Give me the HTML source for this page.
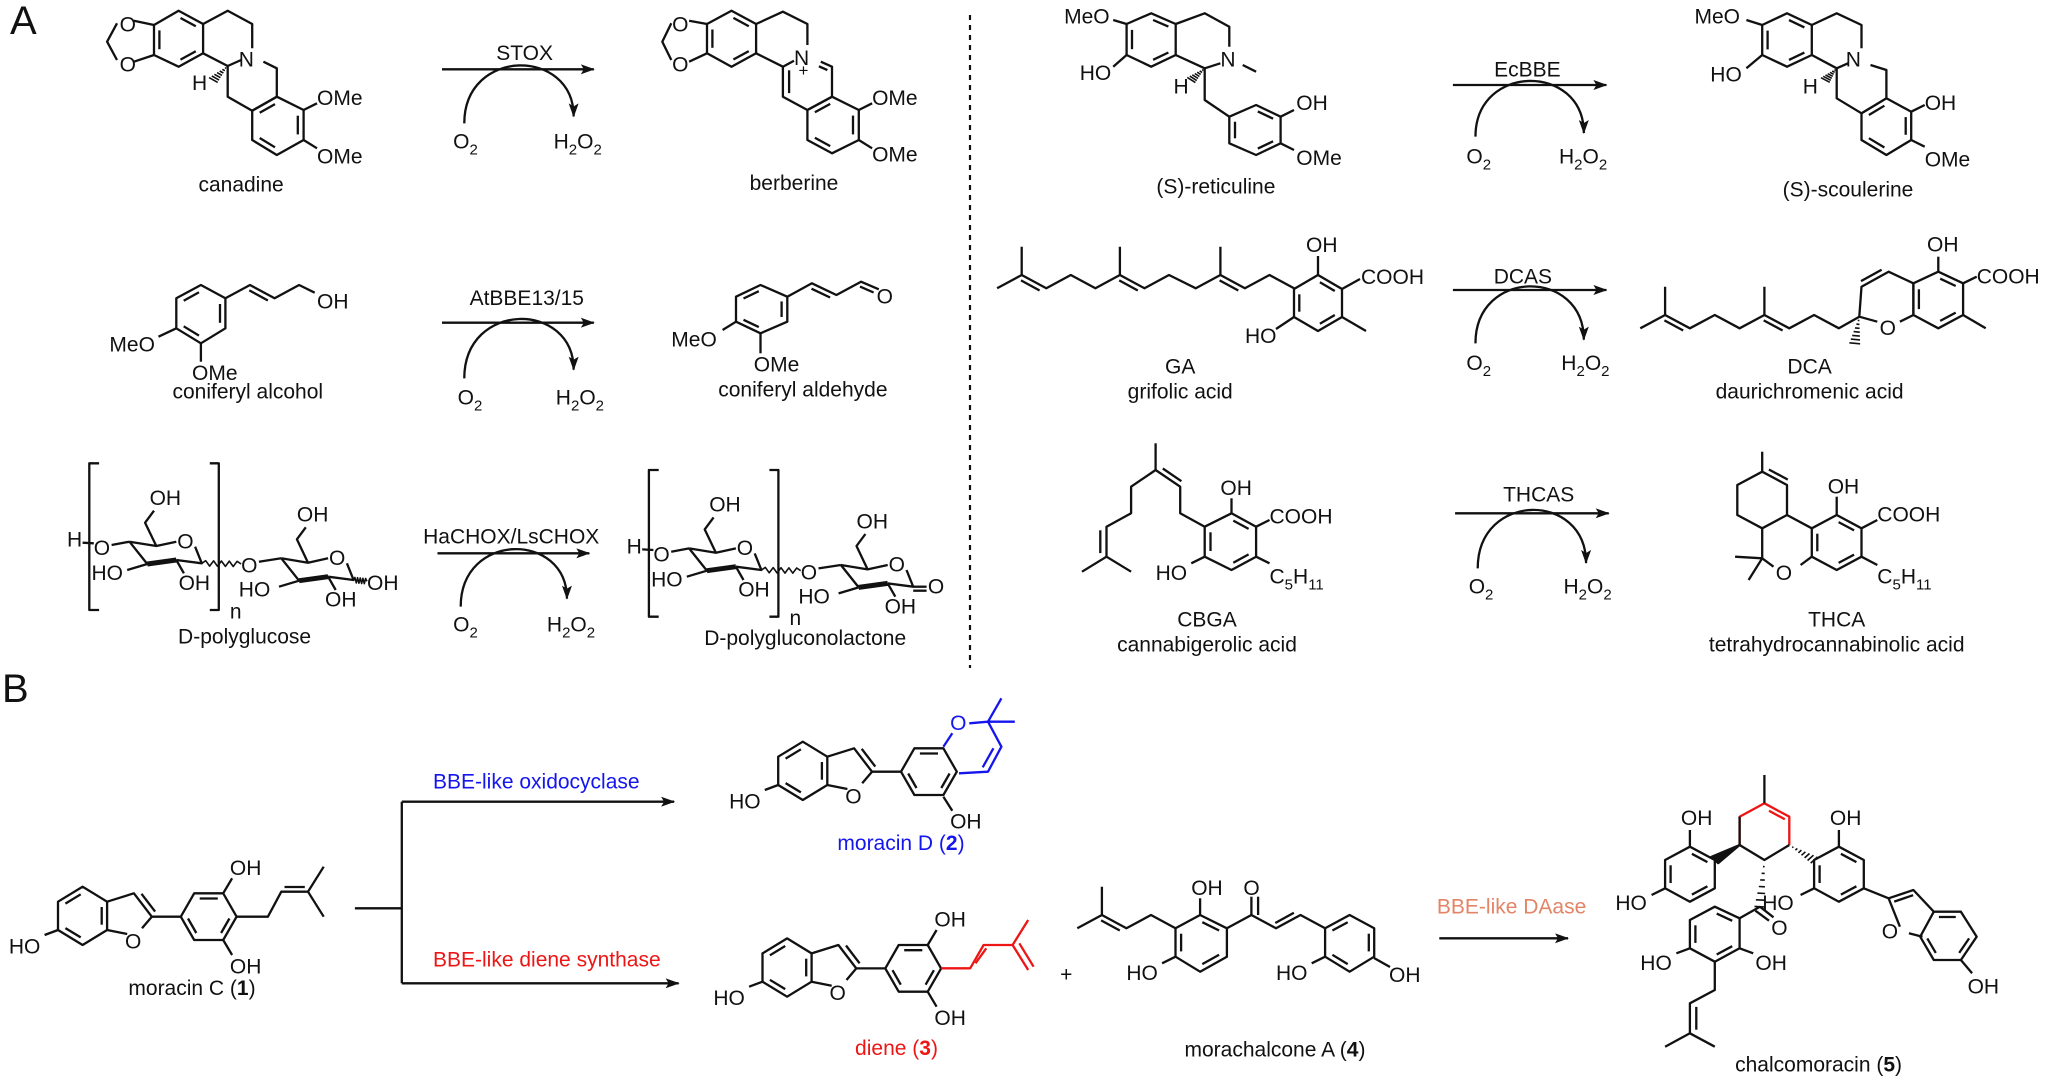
<!DOCTYPE html>
<html><head><meta charset="utf-8"><style>
body{margin:0;background:#fff}
svg{display:block}
text{font-family:"Liberation Sans",Arial,sans-serif;font-size:21px;fill:#111}
</style></head><body>
<svg id="s" width="2048" height="1084" viewBox="0 0 2048 1084" xmlns="http://www.w3.org/2000/svg">
<defs><marker id="ah" markerWidth="14" markerHeight="10" refX="13" refY="5" orient="auto" markerUnits="userSpaceOnUse"><path d="M0,0 L14,5 L0,10 L3,5 z" fill="#111"/></marker></defs>
<g id="g" stroke="#111" stroke-width="2.3" fill="none" stroke-linejoin="round"></g>
<g id="t"></g>
</svg>
<script>
var g=document.getElementById('g'),TT=document.getElementById('t'),NS='http://www.w3.org/2000/svg';
function el(n,a,p){var e=document.createElementNS(NS,n);for(var k in a)e.setAttribute(k,a[k]);(p||g).appendChild(e);return e;}
function M(f,x,y){return [f[0]+x*f[2]/1568,f[1]+y/3];}
function P(f,pts,c,close,extra){var s=[];for(var i=0;i<pts.length;i+=2){var m=M(f,pts[i],pts[i+1]);s.push(m[0].toFixed(1)+','+m[1].toFixed(1));}
 var a={points:s.join(' ')};if(c)a.stroke=c;if(extra)for(var k in extra)a[k]=extra[k];return el(close?'polygon':'polyline',a);}
function arom(f,p,c,edges){var cx=0,cy=0,n=p.length/2;for(var i=0;i<n;i++){cx+=p[2*i];cy+=p[2*i+1];}cx/=n;cy/=n;
 edges=edges||[0,2,4];edges.forEach(function(i){var ax=p[2*i],ay=p[2*i+1],j=(i+1)%n,bx=p[2*j],by=p[2*j+1];
 ax+=(cx-ax)*0.22;ay+=(cy-ay)*0.22;bx+=(cx-bx)*0.22;by+=(cy-by)*0.22;
 var dx=bx-ax,dy=by-ay;P(f,[ax+dx*0.1,ay+dy*0.1,bx-dx*0.1,by-dy*0.1],c);});}
function BZ(f,p,c,edges){P(f,p,c,true);arom(f,p,c,edges);}
function T(f,x,y,s,anc,col,size,bold){var m=M(f,x,y);var e=el('text',{x:m[0].toFixed(1),y:m[1].toFixed(1)},TT);e.innerHTML=s;
 if(anc)e.setAttribute('text-anchor',anc);var st='';if(col)st+='fill:'+col+';';if(size)st+='font-size:'+size+'px;';if(bold)st+='font-weight:bold;';if(st)e.setAttribute('style',st);return e;}
function wavy(f,x1,y1,x2,y2){var p=[],n=10;for(var i=0;i<=n;i++){var x=x1+(x2-x1)*i/n,y=y1+(y2-y1)*i/n+(i%2?-8:8)*(i>0&&i<n?1:0);p.push(x,y);}P(f,p,null,false,{'stroke-width':1.6});}
function hash(f,x1,y1,x2,y2){var n=7;for(var i=1;i<=n;i++){var t=i/n,x=x1+(x2-x1)*t,y=y1+(y2-y1)*t,dx=-(y2-y1),dy=(x2-x1),L=Math.sqrt(dx*dx+dy*dy),w=t*12;P(f,[x-dx/L*w,y-dy/L*w,x+dx/L*w,y+dy/L*w],null,false,{'stroke-width':1.6});}}
function wedge(f,x1,y1,x2,y2){var dx=-(y2-y1),dy=(x2-x1),L=Math.sqrt(dx*dx+dy*dy),w=12;P(f,[x1,y1,x2+dx/L*w,y2+dy/L*w,x2-dx/L*w,y2-dy/L*w],null,true,{fill:'#111'});}
function dbl(f,x1,y1,x2,y2,c,side){var dx=-(y2-y1),dy=(x2-x1),L=Math.sqrt(dx*dx+dy*dy),o=(side||1)*14;var ex=x2-x1,ey=y2-y1;
 P(f,[x1+dx/L*o+ex*0.12,y1+dy/L*o*1+ey*0.12,x2+dx/L*o-ex*0.12,y2+dy/L*o-ey*0.12],c);}
var H2O2='H<tspan dy="6" font-size="15">2</tspan><tspan dy="-6">O</tspan><tspan dy="6" font-size="15">2</tspan>';
var O2='O<tspan dy="6" font-size="15">2</tspan>';
function rxn(f,x1,x2,y,lab,lx,ly,cx1,cy1,cx2,cy2,ox,oy,hx,hy){P(f,[x1,y,x2,y],null,false,{'marker-end':'url(#ah)'});
 var a=M(f,cx1,cy1),b=M(f,cx2,cy2),top=M(f,0,y)[1];
 el('path',{d:'M'+a[0]+','+a[1]+' C'+a[0]+','+(top-22)+' '+b[0]+','+(top-22)+' '+b[0]+','+(b[1]-2),'marker-end':'url(#ah)'});
 T(f,lx,ly,lab,'middle');T(f,ox,oy,O2);T(f,hx,hy,H2O2);}
var Z1=[0,0,700],Z2=[0,380,700],Z3=[640,0,700],Z4=[640,380,700],Z5=[1340,0,708],Z6=[1340,380,708],Z7=[0,680,700],Z8=[680,680,700],Z9=[1340,680,708];

T([0,0,1568],10,102,'A',null,null,40);
T([0,0,1568],2,2106,'B',null,null,40);
el('line',{x1:970,y1:15,x2:970,y2:668,'stroke-dasharray':'5,5','stroke-width':2.2});

// ===== canadine (Z1)
P(Z1,[300,62,345,75]);P(Z1,[300,185,345,165]);P(Z1,[262,70,240,125,262,180]);
T(Z1,268,95,'O');T(Z1,268,215,'O');
BZ(Z1,[345,75,400,32,455,72,455,160,400,200,345,165],null,[1,3,5]);
P(Z1,[455,72,510,32,565,72,565,145]);P(Z1,[455,160,510,198,540,180]);
T(Z1,535,200,'N');
P(Z1,[590,185,620,205,620,290,565,332,510,290,510,198]);
BZ(Z1,[565,332,620,290,680,330,680,420,620,465,565,420],null,[0,2,4]);
P(Z1,[680,330,710,310]);P(Z1,[680,420,710,445]);
T(Z1,710,315,'OMe');T(Z1,710,490,'OMe');T(Z1,430,270,'H');hash(Z1,510,198,478,240);
T(Z1,540,575,'canadine','middle');
rxn(Z1,990,1330,208,'STOX',1175,180,1040,370,1285,355,1015,445,1240,445);
// coniferyl alcohol
BZ(Z1,[395,895,450,855,505,895,505,985,450,1030,395,985],null,[0,2,4]);
P(Z1,[505,895,560,855,615,895,670,855,705,878]);dbl(Z1,560,855,615,895,null,1);T(Z1,710,925,'OH');
P(Z1,[395,985,355,1010]);T(Z1,245,1055,'MeO');P(Z1,[450,1030,450,1085]);T(Z1,430,1140,'OMe');
T(Z1,555,1195,'coniferyl alcohol','middle');
rxn(Z1,990,1330,968,'AtBBE13/15',1180,915,1040,1135,1285,1115,1025,1213,1245,1213);

// ===== polyglucose
function sugar(f,lac){
 P(f,[222,250,200,250,200,690,222,690]);P(f,[470,250,490,250,490,690,470,690]);T(f,515,715,'n');
 T(f,150,500,'H');P(f,[185,488,210,490]);T(f,210,525,'O');P(f,[250,495,290,485]);
 function ring(dx,dy){P(f,[290+dx,485+dy,350+dx,498+dy,395+dx,485+dy]);P(f,[437+dx,500+dy,452+dx,550+dy,395+dx,540+dy]);
  P(f,[395+dx,540+dy,330+dx,552+dy],null,false,{'stroke-width':5});P(f,[330+dx,552+dy,290+dx,485+dy]);
  T(f,397+dx,505+dy,'O');P(f,[350+dx,498+dy,325+dx,428+dy,345+dx,392+dy]);
  P(f,[330+dx,552+dy,285+dx,570+dy]);P(f,[395+dx,540+dy,412+dx,580+dy]);}
 ring(0,0);T(f,335,375,'OH');T(f,205,600,'HO');T(f,400,630,'OH');
 wavy(f,452,550,540,552);T(f,540,578,'O');P(f,[580,545,630,535]);
 ring(340,50);T(f,665,425,'OH');T(f,535,650,'HO');T(f,728,680,'OH');
 if(lac){P(f,[792,600,822,600]);P(f,[792,612,822,612]);T(f,825,620,'O');}
 else{wavy(f,792,600,822,604);T(f,822,630,'OH');}
}
sugar(Z2,false);T(Z2,548,790,'D-polyglucose','middle');
var ZL=[559.6,386.7,700];sugar(ZL,true);T(Z4,370,795,'D-polygluconolactone','middle');
rxn(Z2,980,1320,520,'HaCHOX/LsCHOX',1145,490,1032,680,1270,662,1015,755,1225,755);

// ===== berberine (Z3)
P(Z3,[110,62,150,72]);P(Z3,[110,185,150,160]);P(Z3,[70,70,50,125,70,180]);
T(Z3,72,95,'O');T(Z3,72,215,'O');
BZ(Z3,[150,72,205,32,260,72,260,160,205,200,150,160],null,[1,3,5]);
P(Z3,[260,72,320,35,375,72,375,135]);P(Z3,[260,160,320,200,345,182]);
T(Z3,345,195,'N');T(Z3,355,228,'+',null,null,17);
P(Z3,[405,185,430,200,430,290,375,330,320,290,320,200]);dbl(Z3,320,200,320,290,null,-1);dbl(Z3,405,185,430,200,null,1);
BZ(Z3,[375,330,430,290,490,330,490,420,430,460,375,420],null,[0,2,4]);
P(Z3,[490,330,520,310]);P(Z3,[490,420,520,445]);T(Z3,520,315,'OMe');T(Z3,520,485,'OMe');
T(Z3,345,570,'berberine','middle');
// reticuline
T(Z3,950,70,'MeO');P(Z3,[1060,60,1090,72]);
BZ(Z3,[1090,72,1145,40,1200,72,1200,165,1145,200,1090,165],null,[1,3,5]);
T(Z3,985,240,'HO');P(Z3,[1060,200,1090,165]);
P(Z3,[1200,72,1265,40,1320,80,1320,140]);P(Z3,[1200,165,1265,205,1300,190]);T(Z3,1300,200,'N');P(Z3,[1350,195,1380,215]);
T(Z3,1195,280,'H');hash(Z3,1265,205,1235,240);
P(Z3,[1265,205,1265,300,1320,350]);
BZ(Z3,[1320,350,1380,315,1435,350,1435,430,1380,465,1320,430],null,[1,3,5]);
P(Z3,[1435,350,1465,330]);P(Z3,[1435,430,1465,450]);T(Z3,1470,330,'OH');T(Z3,1470,495,'OMe');
T(Z3,1290,580,'(S)-reticuline','middle');
// coniferyl aldehyde
BZ(Z3,[215,890,270,855,330,890,330,965,270,1000,215,965],null,[0,2,4]);
P(Z3,[330,890,385,850,440,885,495,845,535,868]);dbl(Z3,385,850,440,885,null,1);dbl(Z3,495,845,535,868,null,1);T(Z3,530,910,'O');
P(Z3,[215,965,185,990]);T(Z3,70,1040,'MeO');P(Z3,[270,1000,270,1060]);T(Z3,255,1115,'OMe');
T(Z3,365,1190,'coniferyl aldehyde','middle');
// GA
P(Z3,[800,865,855,825,855,740]);P(Z3,[855,825,910,865,965,825,1020,865,1075,825,1075,740]);
P(Z3,[1075,825,1130,865,1185,825,1245,865,1300,825,1300,740]);P(Z3,[1300,825,1355,865,1410,825,1465,865]);
dbl(Z3,855,825,910,865,null,1);dbl(Z3,1075,825,1130,865,null,1);dbl(Z3,1300,825,1355,865,null,1);
var RF=[0,0,1568];
BZ(RF,[1294,867,1318,825,1342,867,1342,951,1318,993,1294,951],null,[1,3,5]);
el('line',{x1:1318,y1:275,x2:1318,y2:256});
el('line',{x1:1342,y1:289,x2:1360,y2:279});el('line',{x1:1342,y1:317,x2:1366,y2:331});el('line',{x1:1294,y1:317,x2:1276,y2:329});
(function(){var e;e=el('text',{x:1306,y:252},TT);e.textContent='OH';e=el('text',{x:1361,y:284},TT);e.textContent='COOH';e=el('text',{x:1245,y:343},TT);e.textContent='HO';})();
T(Z3,1210,1120,'GA','middle');T(Z3,1210,1195,'grifolic acid','middle');
// CBGA (Z4)
P(Z4,[1155,190,1155,270]);P(Z4,[1155,270,1100,320,1100,400,1045,440,1045,530,990,575]);P(Z4,[1045,530,1100,575]);
dbl(Z4,1045,440,1045,530,null,1);dbl(Z4,1155,270,1210,320,null,-1);
P(Z4,[1155,270,1210,320,1210,400,1265,440]);
BZ(Z4,[1265,440,1325,400,1380,440,1380,530,1325,570,1265,530],null,[1,3,5]);
P(Z4,[1325,400,1325,355]);T(Z4,1300,345,'OH');P(Z4,[1380,440,1410,420]);T(Z4,1410,430,'COOH');
P(Z4,[1380,530,1410,550]);T(Z4,1410,610,'C<tspan dy="6" font-size="15">5</tspan><tspan dy="-6">H</tspan><tspan dy="6" font-size="15">11</tspan>');
P(Z4,[1265,530,1235,550]);T(Z4,1155,600,'HO');
T(Z4,1270,740,'CBGA','middle');T(Z4,1270,815,'cannabigerolic acid','middle');

// ===== Z5 scoulerine
rxn(Z5,250,590,255,'EcBBE',415,230,300,410,540,405,280,490,485,490);
T(Z5,785,70,'MeO');P(Z5,[900,60,935,75]);T(Z5,820,245,'HO');P(Z5,[900,205,935,165]);
BZ(Z5,[935,75,990,40,1045,75,1045,165,990,200,935,165],null,[1,3,5]);
P(Z5,[1045,75,1100,40,1155,75,1155,145]);P(Z5,[1045,165,1100,205,1125,190]);T(Z5,1120,200,'N');
T(Z5,1025,280,'H');hash(Z5,1100,205,1075,240);
P(Z5,[1175,195,1210,210,1210,295,1155,340,1100,295,1100,205]);
BZ(Z5,[1155,340,1210,295,1265,335,1265,420,1210,465,1155,420],null,[0,2,4]);
P(Z5,[1265,335,1295,315]);P(Z5,[1265,420,1295,440]);T(Z5,1295,330,'OH');T(Z5,1295,500,'OMe');
T(Z5,1125,590,'(S)-scoulerine','middle');
// DCA
rxn(Z5,250,590,870,'DCAS',405,850,300,1030,540,1025,280,1110,490,1110);
P(Z5,[665,985,720,945,720,860]);P(Z5,[720,945,775,985,830,945,885,985,940,945,940,860]);
P(Z5,[940,945,995,985,1050,945,1105,985,1150,950]);hash(Z5,1150,950,1140,1030);
dbl(Z5,720,945,775,985,null,1);dbl(Z5,940,945,995,985,null,1);
P(Z5,[1190,965,1150,950,1155,860,1215,815,1270,850,1270,945,1240,965]);dbl(Z5,1155,860,1215,815,null,-1);T(Z5,1195,1005,'O');
BZ(Z5,[1270,850,1325,815,1380,850,1380,945,1325,985,1270,945],null,[1,3,5]);
P(Z5,[1325,815,1325,770]);T(Z5,1300,755,'OH');P(Z5,[1380,850,1410,830]);T(Z5,1410,850,'COOH');P(Z5,[1380,945,1430,985]);
T(Z5,1040,1120,'DCA','middle');T(Z5,1040,1195,'daurichromenic acid','middle');
// THCA (Z6)
rxn(Z6,255,595,400,'THCAS',440,365,305,565,545,555,285,640,495,640);
P(Z6,[935,215,935,275]);P(Z6,[935,275,990,315,990,405,935,445,880,405,880,315],null,true);dbl(Z6,935,275,990,315,null,-1);
P(Z6,[990,405,1045,445]);P(Z6,[1045,530,1020,555]);T(Z6,965,600,'O');P(Z6,[960,560,935,535,935,445]);
P(Z6,[935,535,875,530]);P(Z6,[935,535,905,600]);
BZ(Z6,[1045,445,1100,405,1155,445,1155,530,1100,570,1045,530],null,[1,3,5]);
P(Z6,[1100,405,1100,350]);T(Z6,1080,340,'OH');P(Z6,[1155,445,1190,420]);T(Z6,1190,425,'COOH');
P(Z6,[1155,530,1190,555]);T(Z6,1190,610,'C<tspan dy="6" font-size="15">5</tspan><tspan dy="-6">H</tspan><tspan dy="6" font-size="15">11</tspan>');
T(Z6,1100,740,'THCA','middle');T(Z6,1100,815,'tetrahydrocannabinolic acid','middle');

// ===== B
function core(f){BZ(f,[130,665,185,620,240,665,240,750,185,795,130,750],null,[0,2,4]);
 P(f,[240,665,300,640,340,710,318,745]);dbl(f,300,640,340,710,null,-1);P(f,[285,762,240,750]);T(f,280,805,'O');
 P(f,[100,765,130,750]);T(f,20,820,'HO');P(f,[340,710,405,710]);
 BZ(f,[405,710,435,640,500,640,530,710,500,780,435,780],null,[1,3,5]);}
core(Z7);P(Z7,[500,640,520,595]);T(Z7,515,585,'OH');P(Z7,[500,780,520,825]);T(Z7,515,880,'OH');
P(Z7,[530,710,600,710,630,635,690,635,725,560]);P(Z7,[690,635,725,710]);dbl(Z7,630,635,690,635,null,-1);
T(Z7,430,945,'moracin C (<tspan font-weight="bold">1</tspan>)','middle');
P(Z7,[795,685,900,685]);P(Z7,[900,365,900,910]);
P(Z7,[900,365,1510,365],null,false,{'marker-end':'url(#ah)'});P(Z7,[900,910,1520,910],null,false,{'marker-end':'url(#ah)'});
T(Z7,970,325,'BBE-like oxidocyclase',null,'#1515ee');T(Z7,970,860,'BBE-like diene synthase',null,'#ee1515');
// moracin D
var MD=[720.2,535,700];core(MD);P(Z8,[590,350,610,392]);T(Z8,605,445,'OH');
P(Z8,[590,200,610,160],'#1515ee');T(Z8,605,150,'O',null,'#1515ee');
P(Z8,[648,130,690,125,720,200,690,275,625,280],'#1515ee');P(Z8,[690,125,720,55],'#1515ee');P(Z8,[690,125,750,125],'#1515ee');
P(Z8,[702,205,678,262],'#1515ee');
T(Z8,495,510,'moracin D (<tspan font-weight="bold">2</tspan>)','middle','#1515ee');
// diene
var DI=[704.5,731.7,700];core(DI);P(DI,[500,640,520,595]);T(DI,515,585,'OH');P(DI,[500,780,520,825]);T(DI,515,880,'OH');
P(Z8,[585,865,650,865,680,795,745,795,780,870],'#ee1515');P(Z8,[745,795,780,720],'#ee1515');
P(Z8,[662,850,686,805],'#ee1515');P(Z8,[760,790,792,860],'#ee1515');
T(Z8,485,1125,'diene (<tspan font-weight="bold">3</tspan>)','middle','#ee1515');
T(Z8,865,905,'+','middle');
// morachalcone
P(Z8,[890,745,945,705,945,620]);P(Z8,[945,705,1000,745,1055,705,1110,745]);dbl(Z8,945,705,1000,745,null,1);
BZ(Z8,[1110,745,1165,705,1225,745,1225,830,1165,875,1110,830],null,[1,3,5]);
P(Z8,[1165,705,1165,655]);T(Z8,1145,645,'OH');P(Z8,[1110,830,1080,850]);T(Z8,1000,900,'HO');
P(Z8,[1225,745,1280,705,1335,745,1390,705,1445,745]);dbl(Z8,1335,745,1390,705,null,-1);P(Z8,[1280,705,1280,650]);P(Z8,[1295,705,1295,650]);T(Z8,1262,645,'O');
BZ(Z8,[1445,745,1500,705,1555,745,1555,830,1500,875,1445,830],null,[0,2,4]);P(Z8,[1445,830,1415,850]);T(Z8,1335,900,'HO');
el('line',{x1:1374,y1:958,x2:1390,y2:967});(function(){var e=el('text',{x:1389,y:982},TT);e.textContent='OH';})();
T(Z8,1130,1130,'morachalcone A (<tspan font-weight="bold">4</tspan>)');
// DAase
P(Z9,[220,775,505,775],null,false,{'marker-end':'url(#ah)'});T(Z9,380,700,'BBE-like DAase','middle','#e38466');
// chalcomoracin
P(Z9,[885,495,885,410,940,370,995,410,995,495],'#ee1515');P(Z9,[885,495,940,540,995,495]);P(Z9,[885,410,885,495]);
P(Z9,[940,370,940,285]);P(Z9,[950,392,985,418],'#ee1515');
wedge(Z9,885,495,830,540);
BZ(Z9,[830,540,775,500,720,540,720,625,775,665,830,625],null,[0,2,4]);
P(Z9,[775,500,775,450]);T(Z9,755,435,'OH');P(Z9,[720,625,690,645]);T(Z9,610,690,'HO');
hash(Z9,995,495,1050,540);
BZ(Z9,[1050,540,1105,500,1160,540,1160,625,1105,665,1050,625],null,[1,3,5]);
P(Z9,[1105,500,1105,450]);T(Z9,1085,435,'OH');P(Z9,[1050,625,1020,645]);T(Z9,935,690,'HO');
P(Z9,[1160,625,1215,655]);P(Z9,[1240,740,1215,655,1270,630,1315,695]);dbl(Z9,1215,655,1270,630,null,1);P(Z9,[1260,760,1290,770]);T(Z9,1200,775,'O');
BZ(Z9,[1315,695,1375,695,1410,770,1375,840,1315,840,1285,770],null,[0,2,4]);P(Z9,[1375,840,1400,880]);T(Z9,1390,940,'OH');
hash(Z9,940,540,930,680);P(Z9,[930,680,960,712]);P(Z9,[920,692,950,722]);T(Z9,955,765,'O');
P(Z9,[930,680,885,715]);
BZ(Z9,[885,715,830,680,775,720,775,805,830,845,885,805],null,[0,2,4]);
P(Z9,[775,805,745,820]);T(Z9,665,870,'HO');P(Z9,[885,805,915,820]);T(Z9,920,870,'OH');
P(Z9,[830,845,830,930,775,970,775,1060,720,1100]);P(Z9,[775,1060,830,1100]);dbl(Z9,775,970,775,1060,null,-1);
T(Z9,1060,1175,'chalcomoracin (<tspan font-weight="bold">5</tspan>)','middle');
</script>
</body></html>
